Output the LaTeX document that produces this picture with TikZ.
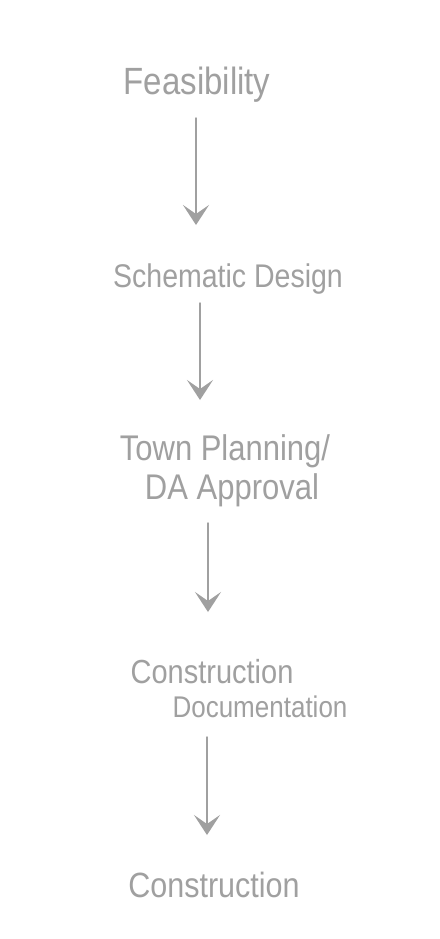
\documentclass[tikz,border=0pt]{standalone}
\usepackage{fontspec}
\usepackage{graphicx}
\setmainfont{Liberation Sans}
\usetikzlibrary{arrows.meta,calc}
\definecolor{pencil}{HTML}{A0A0A0}
\newcommand{\tall}[1]{\scalebox{1}[1.15]{#1}}
\tikzset{
  label/.style={anchor=base, inner sep=0pt, text=pencil},
  arr/.style={draw=pencil, line width=1.4pt, line cap=round,
    -{Stealth[length=20pt,width=26pt,inset=9pt,fill=pencil]}}
}
\begin{document}
\begin{tikzpicture}[x=1pt,y=-1pt]
\useasboundingbox[fill=white] (0,0) rectangle (439,939);
\node[label, font=\fontsize{33}{36}\selectfont] (feas) at (197,95) {\tall{Feasibility}};
\node[label, font=\fontsize{28.5}{32}\selectfont] (sd) at (228,287) {\tall{Schematic Design}};
\node[label, font=\fontsize{31}{36}\selectfont] (town) at (225,460) {\tall{Town Planning/}};
\node[label, font=\fontsize{31}{36}\selectfont] (da) at (232,499) {\tall{DA Approval}};
\node[label, font=\fontsize{29}{34}\selectfont] (cons1) at (212,683) {\tall{Construction}};
\node[label, font=\fontsize{26}{30}\selectfont] (doc) at (260,717) {\tall{Documentation}};
\node[label, font=\fontsize{30.5}{34}\selectfont] (cons2) at (214,897) {\tall{Construction}};
\draw[arr] ($(feas.base)+(-1,23)$) -- ($(feas.base |- sd.base)+(-1,-62)$);
\draw[arr] ($(sd.base)+(-28,16)$) -- ($(sd.base |- town.base)+(-28,-60)$);
\draw[arr] ($(da.base)+(-24,24)$) -- ($(da.base |- cons1.base)+(-24,-71)$);
\draw[arr] ($(doc.base)+(-53,20)$) -- ($(doc.base |- cons2.base)+(-53,-62)$);
\end{tikzpicture}
\end{document}
